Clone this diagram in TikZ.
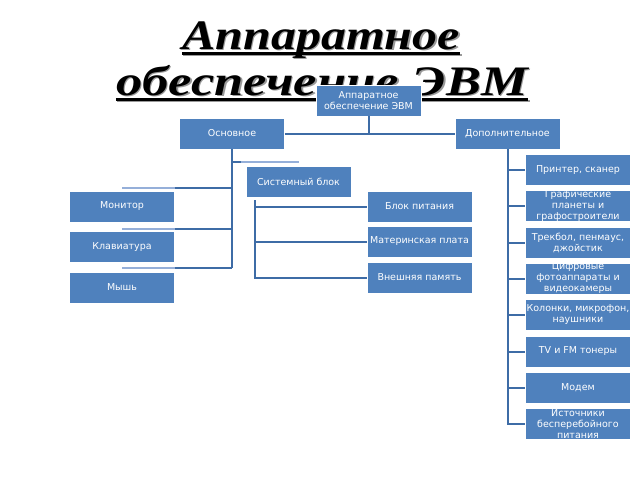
\documentclass[tikz,border=0pt]{standalone}
\usepackage{fontspec}
\setmainfont{DejaVu Sans}
\newfontfamily\titlefont{Liberation Serif}
\usetikzlibrary{calc}
\definecolor{boxblue}{HTML}{4F81BD}
\definecolor{linedark}{HTML}{3E6CA6}
\definecolor{linelight}{HTML}{95AFD9}
\begin{document}
\begin{tikzpicture}[x=1pt,y=-1pt,
 box/.style={draw=white, line width=0.8pt, fill=boxblue, text=white, minimum width=105pt, minimum height=31pt, inner xsep=0pt, inner ysep=0pt, align=center, font=\fontsize{9.5}{11}\selectfont},
 conn/.style={draw=linedark, line width=2pt},
 connl/.style={draw=linelight, line width=1.4pt},
 ttl/.style={inner sep=0pt, anchor=base, font=\titlefont\bfseries\itshape\fontsize{42}{46}\selectfont},
 uline/.style={line width=2.2pt}]
\useasboundingbox[fill=white] (0,0) rectangle (640,480);

% title with shadow
\node[ttl, text=black!40] (t1s) at (322.5,50.5) {\scalebox{1.19}[1]{Аппаратное}};
\node[ttl, text=black!40] (t2s) at (323.5,96.5) {\scalebox{1.25}[1]{обеспечение ЭВМ}};
\draw[uline, black!40] ($(t1s.base west)+(0,4.5)$) -- ($(t1s.base east)+(0,4.5)$);
\draw[uline, black!40] ($(t2s.base west)+(0,4.5)$) -- ($(t2s.base east)+(0,4.5)$);
\node[ttl] (t1) at (321,49) {\scalebox{1.19}[1]{Аппаратное}};
\node[ttl] (t2) at (322,95) {\scalebox{1.25}[1]{обеспечение ЭВМ}};
\draw[uline] ($(t1.base west)+(0,4.5)$) -- ($(t1.base east)+(0,4.5)$);
\draw[uline] ($(t2.base west)+(0,4.5)$) -- ($(t2.base east)+(0,4.5)$);

% boxes
\node[box] (root) at (368.5,100.5) {Аппаратное\\обеспечение ЭВМ};
\node[box] (osn) at (232,133.5) {Основное};
\node[box] (dop) at (507.5,133.5) {Дополнительное};
\node[box] (sys) at (298.5,181.5) {Системный блок};
\node[box] (mon) at (122,206.5) {Монитор};
\node[box] (klav) at (122,247) {Клавиатура};
\node[box] (mou) at (122,287.5) {Мышь};
\node[box] (bp) at (419.5,206.5) {Блок питания};
\node[box] (mp) at (419.5,241.5) {Материнская плата};
\node[box] (vp) at (419.5,277.5) {Внешняя память};
\node[box] (r1) at (578,170) {Принтер, сканер};
\node[box] (r2) at (578,206) {Графические\\планеты и\\графостроители};
\node[box] (r3) at (578,242.5) {Трекбол, пенмаус,\\джойстик};
\node[box] (r4) at (578,278.5) {Цифровые\\фотоаппараты и\\видеокамеры};
\node[box] (r5) at (578,315) {Колонки, микрофон,\\наушники};
\node[box] (r6) at (578,351.5) {TV и FM тонеры};
\node[box] (r7) at (578,387.5) {Модем};
\node[box] (r8) at (578,424) {Источники\\бесперебойного\\питания};

% root connectors
\draw[conn] (root.south) -- (root.south |- osn.east);
\draw[conn] (osn.east) -- (dop.west);

% Основное connectors
\coordinate (ob) at (232,268);
\coordinate (sysT) at (299,162);
\coordinate (sysM) at (241,162);
\coordinate (monT) at (122,188);
\coordinate (klavT) at (122,229);
\coordinate (mouT) at (122,268);
\draw[conn] (osn.south) -- (ob);
\draw[conn] (osn.south |- sysM) -- (sysM);
\draw[connl] (sysM) -- (sysT);
\draw[connl] (monT) -- (mon.east |- monT);
\draw[conn] (mon.east |- monT) -- (osn.south |- monT);
\draw[connl] (klavT) -- (klav.east |- klavT);
\draw[conn] (klav.east |- klavT) -- (osn.south |- klavT);
\draw[connl] (mouT) -- (mou.east |- mouT);
\draw[conn] (mou.east |- mouT) -- (osn.south |- mouT);

% Системный блок connectors
\coordinate (sb) at (255,200);
\draw[conn] (sb) |- (vp.west);
\draw[conn] (sb |- bp.west) -- (bp.west);
\draw[conn] (sb |- mp.west) -- (mp.west);

% Дополнительное connectors
\draw[conn] (dop.south) |- (r8.west);
\foreach \r in {r1,r2,r3,r4,r5,r6,r7}
  \draw[conn] (dop.south |- \r.west) -- (\r.west);
\end{tikzpicture}
\end{document}
